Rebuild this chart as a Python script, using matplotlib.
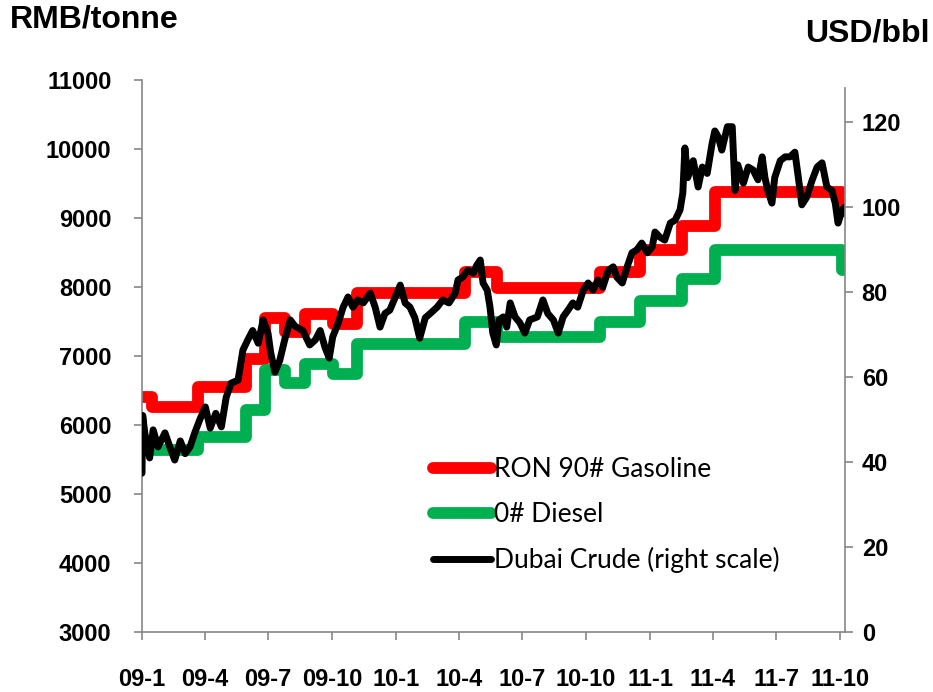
import numpy as np
import matplotlib
matplotlib.use("Agg")
import matplotlib.pyplot as plt

plt.rcParams['font.family'] = ['Liberation Sans', 'DejaVu Sans']
plt.rcParams['font.weight'] = 'bold'

# days counted from 2009-01-01
start = np.datetime64('2009-01-01')
tick_dates = ['2009-01-01', '2009-04-01', '2009-07-01', '2009-10-01',
              '2010-01-01', '2010-04-01', '2010-07-01', '2010-10-01',
              '2011-01-01', '2011-04-01', '2011-07-01', '2011-10-01']
tick_labels = ['09-1', '09-4', '09-7', '09-10', '10-1', '10-4', '10-7',
               '10-10', '11-1', '11-4', '11-7', '11-10']

# RON 90# gasoline, RMB/tonne (step changes)
gas_day = [0, 14, 80, 149, 177, 206, 234, 275, 309, 464, 510, 658, 716, 776, 823, 1005, 1010]
gas_val = [6400, 6260, 6550, 6960, 7550, 7350, 7610, 7460, 7910, 8220, 7990, 8220,
           8540, 8890, 9380, 9100, 9100]

# 0# diesel, RMB/tonne
diesel_day = [0, 80, 149, 177, 206, 234, 275, 309, 464, 510, 658, 716, 776, 823, 1005, 1010]
diesel_val = [5640, 5830, 6220, 6800, 6610, 6880, 6740, 7180, 7490, 7275, 7500,
              7790, 8120, 8530, 8250, 8250]

# Dubai crude, USD/bbl
crude_day = [0, 1, 4, 11, 16, 23, 33, 40, 47, 55, 62, 69, 76, 83, 91, 98, 106, 114,
             121, 128, 138, 145, 152, 159, 167, 174, 181, 185, 191, 198, 205, 213,
             220, 231, 241, 249, 256, 263, 269, 274, 282, 289, 296, 303, 310, 318,
             328, 335, 342, 349, 356, 364, 371, 378, 385, 392, 399, 407, 414, 424,
             432, 441, 450, 454, 461, 468, 476, 481, 486, 490, 496, 500, 504, 509,
             513, 519, 524, 529, 536, 543, 550, 557, 568, 576, 583, 591, 598, 605,
             612, 619, 626, 634, 641, 648, 655, 662, 670, 677, 682, 690, 697, 704,
             711, 718, 726, 733, 737, 744, 751, 759, 766, 773, 777, 780, 784, 792,
             799, 805, 812, 819, 823, 828, 833, 841, 848, 852, 856, 864, 871, 878,
             885, 891, 895, 899, 905, 909, 917, 924, 931, 938, 943, 948, 955, 963,
             970, 977, 984, 991, 996, 1000, 1006, 1009]
crude_val = [37.4, 51, 46.9, 41, 47.6, 43.6, 46.9, 43.6, 40.5, 45, 42, 43.6, 47, 50,
             53, 48, 51.5, 48.3, 55.3, 58.6, 59.3, 66.4, 68.8, 71, 68, 73.5, 70.4,
             65.7, 61.2, 64, 68.8, 73.5, 72, 71, 67.6, 68.8, 71, 67, 64.5, 69.5, 72.8,
             76.5, 78.9, 76.5, 78.2, 77.5, 79.8, 76.5, 71.8, 75, 75.8, 78.9, 81.7,
             77.5, 76.5, 74, 69.2, 74, 75, 76.5, 78.2, 77.5, 79.8, 82.9, 83.6, 85.2,
             84.5, 86.4, 87.6, 82.2, 80.5, 76.5, 70.4, 67.6, 73.5, 74.2, 71.8, 77.5,
             74.2, 72.8, 70.4, 73.5, 74.2, 78.2, 75, 73.5, 70.4, 74.2, 75.8, 77.5,
             76.5, 80.5, 82.2, 80.5, 82.9, 81.2, 85.2, 86, 83.6, 82.2, 86, 89.3, 90,
             91.6, 89.3, 90.7, 94.2, 93, 92.3, 96.3, 97, 99.4, 103.4, 114, 107, 111,
             104.8, 109.5, 108, 115, 118, 116.6, 113.5, 119, 119, 104, 110, 105.7,
             109.5, 108.8, 106.5, 111.9, 107, 104, 101, 107, 111, 111.9, 111.9, 113,
             107, 100.6, 102.4, 106.5, 109.5, 110.5, 104.8, 104, 101, 96.3, 99.4, 100]

tick_pos = (np.array(tick_dates, dtype='datetime64[D]') - start).astype(int)

axis_gray = '#868686'

fig = plt.figure(figsize=(9.33, 6.92), dpi=100)
ax = fig.add_axes([142 / 933, 60 / 692, (845 - 142) / 933, (632 - 80) / 692])
ax2 = ax.twinx()

l1, = ax.plot(gas_day, gas_val, drawstyle='steps-post', color='#FF0000', lw=8.5,
              solid_joinstyle='round', solid_capstyle='round')
l2, = ax.plot(diesel_day, diesel_val, drawstyle='steps-post', color='#00B050', lw=8.5,
              solid_joinstyle='round', solid_capstyle='round')
l3, = ax2.plot(crude_day, crude_val, color='black', lw=5,
               solid_joinstyle='round', solid_capstyle='round')

ax.set_xlim(0, 1010)
ax.set_ylim(3000, 11000)
ax.set_yticks(np.arange(3000, 11001, 1000))
ax2.set_ylim(0, 130)
ax2.set_yticks(np.arange(0, 121, 20))
ax.set_xticks(tick_pos, tick_labels)

for a in (ax, ax2):
    a.spines['top'].set_visible(False)
    for s in a.spines.values():
        s.set_color(axis_gray)
        s.set_linewidth(1.2)
ax.spines['right'].set_visible(False)
ax2.spines['left'].set_visible(False)
ax2.spines['bottom'].set_visible(False)
ax2.spines['right'].set_bounds(0, 128)

ax.tick_params(axis='y', direction='out', length=6, width=1.2, color=axis_gray,
               pad=16, labelsize=17)
ax.tick_params(axis='x', direction='out', length=6, width=1.2, color=axis_gray,
               pad=20, labelsize=17)
ax2.tick_params(axis='y', direction='out', length=6, width=1.2, color=axis_gray,
                pad=6, labelsize=17)

fig.text(10 / 933, 1 - 20 / 692, 'RMB/tonne', fontsize=23, fontweight='bold',
         ha='left', va='center')
fig.text(930 / 933, 1 - 33 / 692, 'USD/bbl', fontsize=23, fontweight='bold',
         ha='right', va='center')

fig.legend([l1, l2, l3], ['RON 90# Gasoline', '0# Diesel', 'Dubai Crude (right scale)'],
           loc='upper left', bbox_to_anchor=(420 / 933, 1 - 444 / 692), frameon=False,
           prop={'family': 'Lato', 'weight': 'normal', 'size': 19},
           handlelength=2.2, handletextpad=0.1, labelspacing=0.76, borderpad=0)

fig.savefig('out.png', dpi=100)
